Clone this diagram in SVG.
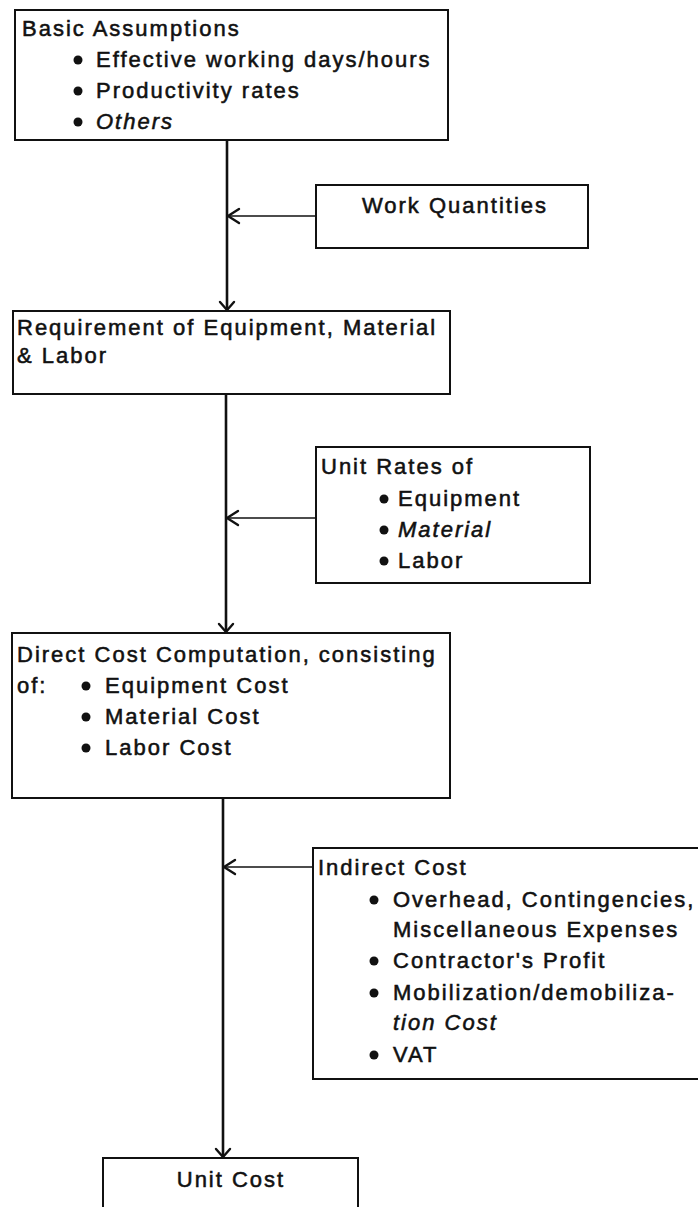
<svg xmlns="http://www.w3.org/2000/svg" width="698" height="1207" viewBox="0 0 698 1207">
<style>
  .box { fill: #ffffff; stroke: #111111; stroke-width: 2; }
  .t { font-family: "Liberation Sans", Arial, sans-serif; font-size: 22px; fill: #111111; letter-spacing: 2px; stroke: #111111; stroke-width: 0.55; }
  .it { font-style: italic; }
  .mid { text-anchor: middle; }
  .bul { fill: #111111; }
  .main { stroke: #111111; stroke-width: 2.6; fill: none; }
  .feed { stroke: #111111; stroke-width: 1.6; fill: none; }
  .head { stroke: #111111; stroke-width: 2.4; fill: none; stroke-linecap: round; stroke-linejoin: round; }
</style>
<rect width="698" height="1207" fill="#ffffff"/>

<g id="connectors">
  <line class="main" x1="227" y1="140" x2="227" y2="310"/>
  <polyline class="head" points="220,302 227,310 234,302"/>
  <line class="feed" x1="316" y1="216" x2="228" y2="216"/>
  <polyline class="head" points="239,209 228,216 239,223"/>

  <line class="main" x1="226" y1="394" x2="226" y2="632"/>
  <polyline class="head" points="219,624 226,632 233,624"/>
  <line class="feed" x1="316" y1="518" x2="227" y2="518"/>
  <polyline class="head" points="238,511 227,518 238,525"/>

  <line class="main" x1="223" y1="798" x2="223" y2="1157"/>
  <polyline class="head" points="216,1149 223,1157 230,1149"/>
  <line class="feed" x1="313" y1="867" x2="224" y2="867"/>
  <polyline class="head" points="235,860 224,867 235,874"/>
</g>

<g id="basic-assumptions">
  <rect class="box" x="15" y="10" width="433" height="130"/>
  <text class="t" x="22" y="36">Basic Assumptions</text>
  <circle class="bul" cx="78" cy="60" r="4.5"/>
  <text class="t" x="96" y="67">Effective working days/hours</text>
  <circle class="bul" cx="78" cy="91" r="4.5"/>
  <text class="t" x="96" y="98">Productivity rates</text>
  <circle class="bul" cx="78" cy="122" r="4.5"/>
  <text class="t it" x="96" y="129">Others</text>
</g>

<g id="work-quantities">
  <rect class="box" x="316" y="185" width="272" height="63"/>
  <text class="t mid" x="455" y="213">Work Quantities</text>
</g>

<g id="requirement">
  <rect class="box" x="13" y="311" width="437" height="83"/>
  <text class="t" x="17" y="335">Requirement of Equipment, Material</text>
  <text class="t" x="17" y="363">&amp; Labor</text>
</g>

<g id="unit-rates">
  <rect class="box" x="316" y="447" width="274" height="136"/>
  <text class="t" x="321" y="474">Unit Rates of</text>
  <circle class="bul" cx="384" cy="499" r="4.5"/>
  <text class="t" x="398" y="506">Equipment</text>
  <circle class="bul" cx="384" cy="530" r="4.5"/>
  <text class="t it" x="398" y="537">Material</text>
  <circle class="bul" cx="384" cy="561" r="4.5"/>
  <text class="t" x="398" y="568">Labor</text>
</g>

<g id="direct-cost">
  <rect class="box" x="12" y="633" width="438" height="165"/>
  <text class="t" x="17" y="662">Direct Cost Computation, consisting</text>
  <text class="t" x="17" y="693">of:</text>
  <circle class="bul" cx="86" cy="686" r="4.5"/>
  <text class="t" x="105" y="693">Equipment Cost</text>
  <circle class="bul" cx="86" cy="717" r="4.5"/>
  <text class="t" x="105" y="724">Material Cost</text>
  <circle class="bul" cx="86" cy="748" r="4.5"/>
  <text class="t" x="105" y="755">Labor Cost</text>
</g>

<g id="indirect-cost">
  <rect class="box" x="313" y="848" width="392" height="231"/>
  <text class="t" x="318" y="875">Indirect Cost</text>
  <circle class="bul" cx="374" cy="900" r="4.5"/>
  <text class="t" x="393" y="907">Overhead, Contingencies,</text>
  <text class="t" x="393" y="937">Miscellaneous Expenses</text>
  <circle class="bul" cx="374" cy="961" r="4.5"/>
  <text class="t" x="393" y="968">Contractor's Profit</text>
  <circle class="bul" cx="374" cy="993" r="4.5"/>
  <text class="t" x="393" y="1000">Mobilization/demobiliza-</text>
  <text class="t it" x="393" y="1030">tion Cost</text>
  <circle class="bul" cx="374" cy="1055" r="4.5"/>
  <text class="t" x="393" y="1062">VAT</text>
</g>

<g id="unit-cost">
  <rect class="box" x="103" y="1158" width="255" height="60"/>
  <text class="t mid" x="231" y="1187">Unit Cost</text>
</g>
</svg>
